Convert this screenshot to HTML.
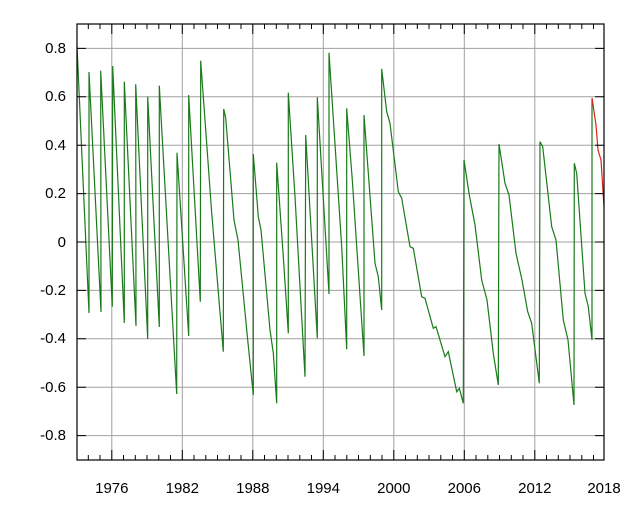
<!DOCTYPE html>
<html><head><style>body{margin:0;background:#fff}svg{display:block}</style></head><body>
<svg width="640" height="512" xmlns="http://www.w3.org/2000/svg" font-family="Liberation Sans, sans-serif" font-size="15" fill="#000">
<rect width="640" height="512" fill="#fff"/>
<g stroke="#a0a0a0" stroke-width="1">
<line x1="77" y1="48.4" x2="604" y2="48.4"/><line x1="77" y1="96.8" x2="604" y2="96.8"/><line x1="77" y1="145.2" x2="604" y2="145.2"/><line x1="77" y1="193.6" x2="604" y2="193.6"/><line x1="77" y1="242" x2="604" y2="242"/><line x1="77" y1="290.4" x2="604" y2="290.4"/><line x1="77" y1="338.8" x2="604" y2="338.8"/><line x1="77" y1="387.2" x2="604" y2="387.2"/><line x1="77" y1="435.6" x2="604" y2="435.6"/>
<line x1="111.8" y1="24" x2="111.8" y2="460"/><line x1="182.3" y1="24" x2="182.3" y2="460"/><line x1="252.8" y1="24" x2="252.8" y2="460"/><line x1="323.3" y1="24" x2="323.3" y2="460"/><line x1="393.8" y1="24" x2="393.8" y2="460"/><line x1="464.3" y1="24" x2="464.3" y2="460"/><line x1="534.8" y1="24" x2="534.8" y2="460"/>
</g>
<polyline fill="none" stroke="#1a7a1a" stroke-width="1.2" points="77,46 89,313 89,72 101,312 100.7,70.7 112.3,306.7 112.7,66 124.3,323 124.3,81.7 136,326 135.7,84.3 147.7,339 147.7,96.7 159.3,327 159.3,85.7 176.7,394 177,152.7 188.7,336 188.7,95 200.3,301.7 200.7,60.7 211.7,213 223.3,351.7 223.7,109 225.7,118 234,220 238,240 247.7,340 253.3,395 253.3,154 258.3,216.7 261,230 270,330 273.3,353 276.7,403.3 276.7,162.7 283.3,256.7 288.3,333.3 288.3,92.7 295,196.7 305,376.7 305.7,135 317.3,338.3 317.3,97.3 329,294 329,52.7 341.7,246.7 346.7,349.3 346.7,108.3 352.3,180 364,356 364,115 375,263.3 378.3,276.7 381.7,310 381.7,69 386.7,111.7 390,123.3 398.3,191.7 401.7,198.3 406,223.3 410,246.7 413.3,248.3 421.7,296.7 425,298.3 433.3,328.3 436,326.7 445,356.7 448.3,351.7 456.7,391.7 459.3,388.3 463.3,403.3 464,160 469.3,195 475,225 481.7,280 487,300 493.3,353.3 498.3,385 499,144 505,183.3 509,195 516,253.3 522,280 527.7,311.7 531.7,323.3 539.3,383.3 540,141.7 542.7,146.7 551.7,226.7 556,240 563.3,320 568,340 574,405 574.3,163.3 576.7,173.3 585,293.3 588.3,306.7 592,340 592,99"/>
<polyline fill="none" stroke="#e0201a" stroke-width="1.2" points="592,98 596,125 598,150 601,160 604,207"/>
<rect x="77" y="24" width="527" height="436" fill="none" stroke="#000" stroke-width="1.2"/>
<g text-anchor="end">
<text x="66" y="53">0.8</text><text x="66" y="101">0.6</text><text x="66" y="150">0.4</text><text x="66" y="198">0.2</text><text x="66" y="247">0</text><text x="66" y="295">-0.2</text><text x="66" y="343">-0.4</text><text x="66" y="392">-0.6</text><text x="66" y="440">-0.8</text>
</g>
<g text-anchor="middle">
<text x="111.8" y="493">1976</text><text x="182.3" y="493">1982</text><text x="252.8" y="493">1988</text><text x="323.3" y="493">1994</text><text x="393.8" y="493">2000</text><text x="464.3" y="493">2006</text><text x="534.8" y="493">2012</text><text x="604" y="493">2018</text>
</g>
<g stroke="#000" stroke-width="1">
<path d="M77 48.4h9M77 96.8h9M77 145.2h9M77 193.6h9M77 242h9M77 290.4h9M77 338.8h9M77 387.2h9M77 435.6h9M604 48.4h-9M604 96.8h-9M604 145.2h-9M604 193.6h-9M604 242h-9M604 290.4h-9M604 338.8h-9M604 387.2h-9M604 435.6h-9"/>
<path d="M88.3 24v5M100 24v5M123.5 24v5M135.3 24v5M147 24v5M158.8 24v5M170.5 24v5M194 24v5M205.8 24v5M217.5 24v5M229.3 24v5M241 24v5M264.5 24v5M276.3 24v5M288 24v5M299.8 24v5M311.5 24v5M335 24v5M346.8 24v5M358.5 24v5M370.3 24v5M382 24v5M405.5 24v5M417.3 24v5M429 24v5M440.8 24v5M452.5 24v5M476 24v5M487.8 24v5M499.5 24v5M511.3 24v5M523 24v5M546.5 24v5M558.3 24v5M570 24v5M581.8 24v5M593.5 24v5"/>
<path d="M88.3 460v-5M100 460v-5M123.5 460v-5M135.3 460v-5M147 460v-5M158.8 460v-5M170.5 460v-5M194 460v-5M205.8 460v-5M217.5 460v-5M229.3 460v-5M241 460v-5M264.5 460v-5M276.3 460v-5M288 460v-5M299.8 460v-5M311.5 460v-5M335 460v-5M346.8 460v-5M358.5 460v-5M370.3 460v-5M382 460v-5M405.5 460v-5M417.3 460v-5M429 460v-5M440.8 460v-5M452.5 460v-5M476 460v-5M487.8 460v-5M499.5 460v-5M511.3 460v-5M523 460v-5M546.5 460v-5M558.3 460v-5M570 460v-5M581.8 460v-5M593.5 460v-5"/>
<path d="M111.8 24v10M182.3 24v10M252.8 24v10M323.3 24v10M393.8 24v10M464.3 24v10M534.8 24v10M111.8 460v-10M182.3 460v-10M252.8 460v-10M323.3 460v-10M393.8 460v-10M464.3 460v-10M534.8 460v-10"/>
</g>
</svg>
</body></html>
